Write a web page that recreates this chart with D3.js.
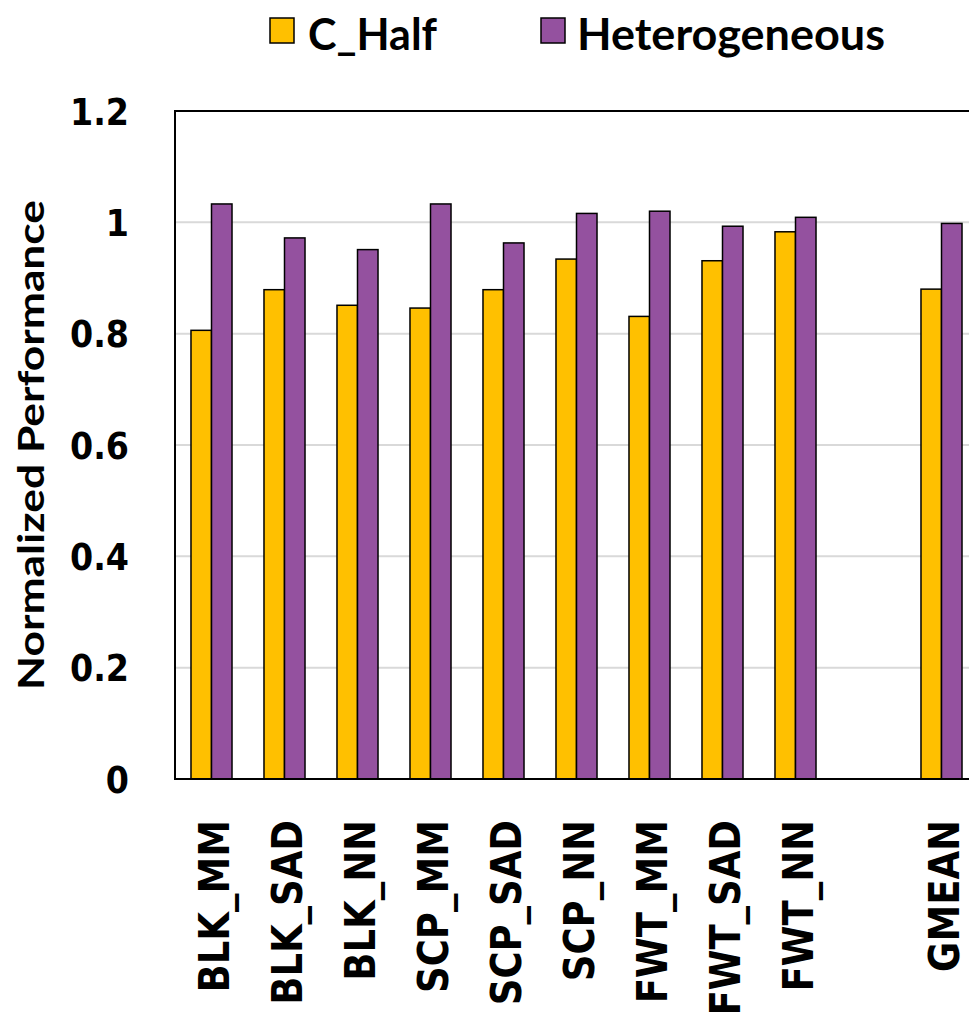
<!DOCTYPE html>
<html>
<head>
<meta charset="utf-8">
<script src="https://cdn.jsdelivr.net/npm/d3@7"></script>
<style>
  html, body { margin: 0; padding: 0; background: #fff; }
  svg { display: block; }
</style>
</head>
<body>
<svg id="chart" width="969" height="1016"></svg>
<script>
// Benchmarks on the x axis (GMEAN is set apart by one empty slot)
const categories = ["BLK_MM", "BLK_SAD", "BLK_NN", "SCP_MM", "SCP_SAD", "SCP_NN", "FWT_MM", "FWT_SAD", "FWT_NN", "GMEAN"];
const seriesNames = ["C_Half", "Heterogeneous"];
const cHalf = [0.806, 0.879, 0.851, 0.846, 0.879, 0.934, 0.831, 0.931, 0.983, 0.880];
const heterogeneous = [1.033, 0.972, 0.951, 1.033, 0.963, 1.016, 1.020, 0.993, 1.009, 0.998];
const yTicks = [0, 0.2, 0.4, 0.6, 0.8, 1, 1.2];

const colors = { "C_Half": "#FFC000", "Heterogeneous": "#94519F" };

const svg = d3.select("#chart");
const plot = { left: 175, right: 978, top: 111, bottom: 779 };

// slot list with a spacer before GMEAN
const slots = categories.slice(0, 9).concat(["__gap__"], categories.slice(9));

const x = d3.scaleBand()
  .domain(slots)
  .range([plot.left, plot.right])
  .paddingInner(0.438)
  .paddingOuter(0.219);

const xInner = d3.scaleBand()
  .domain(seriesNames)
  .range([0, x.bandwidth()]);

const y = d3.scaleLinear()
  .domain([0, 1.2])
  .range([plot.bottom, plot.top]);

// horizontal gridlines
svg.append("g")
  .selectAll("line")
  .data(yTicks.filter(t => t > 0 && t < 1.2))
  .join("line")
  .attr("x1", plot.left).attr("x2", plot.right)
  .attr("y1", d => y(d)).attr("y2", d => y(d))
  .attr("stroke", "#d9d9d9")
  .attr("stroke-width", 2);

// bars
const rows = categories.map((c, i) => ({ cat: c, values: [
  { key: "C_Half", value: cHalf[i] },
  { key: "Heterogeneous", value: heterogeneous[i] }
]}));

svg.append("g")
  .selectAll("g")
  .data(rows)
  .join("g")
  .attr("transform", d => `translate(${x(d.cat)},0)`)
  .selectAll("rect")
  .data(d => d.values)
  .join("rect")
  .attr("x", d => xInner(d.key))
  .attr("width", xInner.bandwidth())
  .attr("y", d => y(d.value))
  .attr("height", d => y(0) - y(d.value))
  .attr("fill", d => colors[d.key])
  .attr("stroke", "#000")
  .attr("stroke-width", 1.5);

// plot frame: left, top and bottom edges
const frame = svg.append("g").attr("stroke", "#000").attr("stroke-width", 2).attr("fill", "none");
frame.append("path")
  .attr("d", `M${plot.right},${plot.top}H${plot.left}V${plot.bottom}H${plot.right}`);

// y axis labels
const yAxis = d3.axisLeft(y).tickValues(yTicks).tickSize(0).tickPadding(46)
  .tickFormat(d => d3.format("~g")(d));
const yg = svg.append("g")
  .attr("transform", `translate(${plot.left},0)`)
  .call(yAxis);
yg.select(".domain").remove();
yg.selectAll("text")
  .attr("font-family", "'DejaVu Sans', sans-serif")
  .attr("font-weight", "bold")
  .attr("font-size", 37)
  .attr("fill", "#000")
  .attr("dy", "0.36em");

// x axis labels, rotated
const xg = svg.append("g");
xg.selectAll("text")
  .data(categories)
  .join("text")
  .attr("transform", d => `translate(${x(d) + x.bandwidth() / 2 + 17},820) rotate(-90)`)
  .attr("text-anchor", "end")
  .attr("font-family", "'DejaVu Sans', sans-serif")
  .attr("font-weight", "bold")
  .attr("font-size", 42)
  .attr("fill", "#000")
  .text(d => d);

// narrow the DejaVu glyphs to a tighter set width
function condense(sel, ratio) {
  sel.each(function () {
    const w = this.getComputedTextLength();
    d3.select(this).attr("textLength", w * ratio).attr("lengthAdjust", "spacingAndGlyphs");
  });
}
condense(yg.selectAll("text"), 0.9);
condense(xg.selectAll("text"), 0.88);

// y axis title
svg.append("text")
  .attr("transform", `translate(44,${(plot.top + plot.bottom) / 2}) rotate(-90)`)
  .attr("text-anchor", "middle")
  .attr("font-family", "Lato, sans-serif")
  .attr("font-weight", "bold")
  .attr("font-size", 36)
  .attr("textLength", 490)
  .attr("lengthAdjust", "spacingAndGlyphs")
  .attr("fill", "#000")
  .text("Normalized Performance");

// legend
const legendItems = [
  { key: "C_Half", sx: 270, tx: 308, len: 129 },
  { key: "Heterogeneous", sx: 541, tx: 577, len: 308 }
];
const lg = svg.append("g");
lg.selectAll("rect")
  .data(legendItems)
  .join("rect")
  .attr("x", d => d.sx).attr("y", 18)
  .attr("width", 24).attr("height", 25)
  .attr("fill", d => colors[d.key])
  .attr("stroke", "#000")
  .attr("stroke-width", 1.5);
lg.selectAll("text")
  .data(legendItems)
  .join("text")
  .attr("x", d => d.tx).attr("y", 50)
  .attr("font-family", "Lato, sans-serif")
  .attr("font-weight", "bold")
  .attr("font-size", 44)
  .attr("textLength", d => d.len)
  .attr("lengthAdjust", "spacingAndGlyphs")
  .attr("fill", "#000")
  .text(d => d.key);
</script>
</body>
</html>
